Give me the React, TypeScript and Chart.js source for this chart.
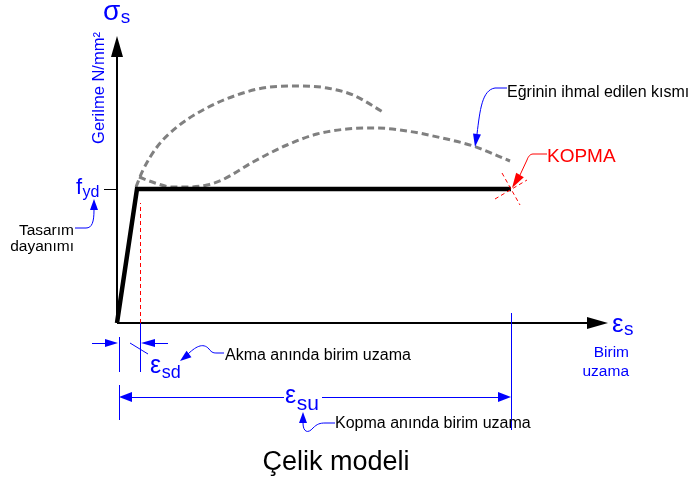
import React, { useEffect, useRef } from "react";
import { Chart, registerables } from "chart.js";

Chart.register(...registerables);

// Diagram units: strain grows to the right, stress grows upward, origin at (0,0)
const bilinearStrain = [0, 20, 394];
const bilinearStress = [0, 134, 134];
const yieldStrain = 23; // ε_sd
const ruptureStrain = 394; // ε_su
const yieldStress = 134; // f_yd
const upperCurveStrain = [19, 26, 40, 60, 86, 120, 153, 183, 210, 236, 266];
const upperCurveStress = [136, 153, 176, 196, 213, 228, 236, 237, 235, 228, 211];
const lowerCurveStrain = [22, 38, 55, 72, 90, 105, 136, 170, 200, 230, 260, 290, 325, 356, 393];
const lowerCurveStress = [146, 140, 136, 136, 138, 143, 161, 178, 189, 194, 195, 192, 185, 177, 162];
const axisStrainEnd = 470;
const axisStressEnd = 266;

const FONT = '"Liberation Sans", Arial, sans-serif';
const BLUE = "#0000ff";
const RED = "#ff0000";
const GRAY = "#808080";

const pts = (xs: number[], ys: number[]) => xs.map((x, i) => ({ x, y: ys[i] }));

const diagramPlugin = {
  id: "diagram",
  afterDatasetsDraw(chart: any) {
    const ctx: CanvasRenderingContext2D = chart.ctx;
    const sx = chart.scales.x;
    const sy = chart.scales.y;
    const X = (v: number) => sx.getPixelForValue(v);
    const Y = (v: number) => sy.getPixelForValue(v);

    const line = (x1: number, y1: number, x2: number, y2: number, color: string, w = 1, dash: number[] = []) => {
      ctx.save();
      ctx.strokeStyle = color;
      ctx.lineWidth = w;
      ctx.setLineDash(dash);
      ctx.beginPath();
      let a = X(x1), b = Y(y1), c = X(x2), d = Y(y2);
      if (w === 1) {
        if (a === c) { a = Math.round(a) + 0.5; c = a; }
        if (b === d) { b = Math.round(b) + 0.5; d = b; }
      }
      ctx.moveTo(a, b);
      ctx.lineTo(c, d);
      ctx.stroke();
      ctx.restore();
    };

    const head = (tx: number, ty: number, bx: number, by: number, half: number, color: string) => {
      const x1 = X(tx), y1 = Y(ty), x0 = X(bx), y0 = Y(by);
      const dx = x1 - x0, dy = y1 - y0;
      const len = Math.hypot(dx, dy) || 1;
      const nx = -dy / len, ny = dx / len;
      ctx.save();
      ctx.fillStyle = color;
      ctx.beginPath();
      ctx.moveTo(x1, y1);
      ctx.lineTo(x0 + nx * half, y0 + ny * half);
      ctx.lineTo(x0 - nx * half, y0 - ny * half);
      ctx.closePath();
      ctx.fill();
      ctx.restore();
    };

    const curve = (segs: number[][][], color: string) => {
      ctx.save();
      ctx.strokeStyle = color;
      ctx.lineWidth = 1;
      ctx.beginPath();
      const s = segs[0][0];
      ctx.moveTo(X(s[0]), Y(s[1]));
      for (let i = 1; i < segs.length; i++) {
        const g = segs[i];
        if (g.length === 3) {
          ctx.bezierCurveTo(X(g[0][0]), Y(g[0][1]), X(g[1][0]), Y(g[1][1]), X(g[2][0]), Y(g[2][1]));
        } else {
          ctx.lineTo(X(g[0][0]), Y(g[0][1]));
        }
      }
      ctx.stroke();
      ctx.restore();
    };

    const text = (t: string, x: number, y: number, size: number, color: string, align: CanvasTextAlign = "left") => {
      ctx.save();
      ctx.font = `${size}px ${FONT}`;
      ctx.fillStyle = color;
      ctx.textAlign = align;
      ctx.textBaseline = "alphabetic";
      ctx.fillText(t, X(x), Y(y));
      ctx.restore();
    };

    const sym = (main: string, sub: string, x: number, y: number, mainSize: number, subSize: number, drop: number, color: string) => {
      ctx.save();
      ctx.fillStyle = color;
      ctx.textAlign = "left";
      ctx.textBaseline = "alphabetic";
      ctx.font = `${mainSize}px ${FONT}`;
      ctx.fillText(main, X(x), Y(y));
      const w = ctx.measureText(main).width;
      ctx.font = `${subSize}px ${FONT}`;
      ctx.fillText(sub, X(x) + w + 0.5, Y(y) + drop);
      ctx.restore();
    };

    // yield strain marker (red dashed)
    line(yieldStrain, 0, yieldStrain, yieldStress - 14, RED, 1, [4, 3]);

    // axis arrowheads
    head(axisStrainEnd + 21, 0, axisStrainEnd, 0, 6, "#000");
    head(0, axisStressEnd + 21, 0, axisStressEnd, 6, "#000");

    // f_yd tick
    line(-13, yieldStress, 0, yieldStress, "#000", 1);

    // axis labels
    sym("σ", "s", -14, 303, 28, 19, 3, BLUE);
    ctx.save();
    ctx.translate(X(-18), Y(235));
    ctx.rotate(-Math.PI / 2);
    ctx.font = `16.5px ${FONT}`;
    ctx.fillStyle = BLUE;
    ctx.textAlign = "center";
    ctx.textBaseline = "middle";
    ctx.fillText("Gerilme N/mm²", 0, 0);
    ctx.restore();

    sym("f", "yd", -41, yieldStress - 5, 22, 16, 3, BLUE);
    sym("ε", "s", ruptureStrain + 101, -9, 26, 19, 3, BLUE);
    text("Birim", ruptureStrain + 118, -34, 15.5, BLUE, "right");
    text("uzama", ruptureStrain + 118, -53, 15.5, BLUE, "right");

    // Tasarım dayanımı callout
    text("Tasarım", -43, 88, 15.5, "#000", "right");
    text("dayanımı", -43, 72, 15.5, "#000", "right");
    head(-23, 124, -23, 113, 4, BLUE);
    curve([[[-23, 113]], [[-23, 101], [-25, 95], [-31, 95]], [[-42, 95]]], BLUE);

    // Neglected part callout
    text("Eğrinin ihmal edilen kısmı", 390, 226, 16, "#000");
    head(358, 176, 360, 189, 4, BLUE);
    curve([[[360, 189]], [[363, 213], [365, 233], [378, 235]], [[390, 235]]], BLUE);

    // Rupture
    line(378, 124, 410, 143, RED, 1, [4, 3]);
    line(385, 150, 403, 118, RED, 1, [4, 3]);
    text("KOPMA", 430, 161, 19, RED);
    head(395, 135, 403, 148, 4.5, RED);
    curve([[[430, 169]], [[416, 169]], [[413, 169], [411, 166], [410, 163]], [[403, 148]]], RED);

    // ε_sd dimension
    line(2, -14, 2, -49, BLUE);
    line(yieldStrain, 0, yieldStrain, -49, BLUE);
    line(-25, -20, -12, -20, BLUE);
    head(1, -20, -12, -20, 4, BLUE);
    line(51, -20, 38, -20, BLUE);
    head(yieldStrain + 1, -20, 38, -20, 4, BLUE);
    line(13, -20, 31, -31, BLUE);
    sym("ε", "sd", 33, -50, 25, 18, 5, BLUE);
    head(63, -38, 72, -31, 4, BLUE);
    curve([[[70, -32]], [[78, -24], [86, -19], [92, -26]], [[95, -30], [97, -30], [100, -30]], [[107, -30]]], BLUE);
    text("Akma anında birim uzama", 108, -37, 16, "#000");

    // ε_su dimension
    line(2, -62, 2, -97, BLUE);
    line(ruptureStrain, 10, ruptureStrain, -107, BLUE);
    line(15, -74, 167, -74, BLUE);
    line(205, -74, ruptureStrain - 13, -74, BLUE);
    head(2, -74, 15, -74, 5, BLUE);
    head(ruptureStrain, -74, ruptureStrain - 13, -74, 5, BLUE);
    sym("ε", "su", 168, -80, 25, 21, 7, BLUE);
    head(186, -89, 186, -100, 4, BLUE);
    curve([[[186, -100]], [[186, -109], [191, -111], [196, -105]], [[200, -101], [203, -100], [208, -100]], [[218, -100]]], BLUE);
    text("Kopma anında birim uzama", 218, -105, 16, "#000");

    // title
    text("Çelik modeli", 219, -147, 27, "#000", "center");
  },
};

export default function App() {
  const ref = useRef<HTMLCanvasElement | null>(null);
  useEffect(() => {
    if (!ref.current) return;
    const lineDs = (data: any[], color: string, width: number, dash: number[] = [], smooth = false) => ({
      data,
      showLine: true,
      borderColor: color,
      backgroundColor: color,
      borderWidth: width,
      borderDash: dash,
      cubicInterpolationMode: smooth ? "monotone" : "default",
      tension: 0,
      pointRadius: 0,
      fill: false,
    });
    const chart = new Chart(ref.current, {
      type: "scatter",
      data: {
        datasets: [
          lineDs(pts(bilinearStrain, bilinearStress), "#000", 4.5),
          lineDs([{ x: 0, y: 0 }, { x: axisStrainEnd, y: 0 }], "#000", 2),
          lineDs([{ x: 0, y: 0 }, { x: 0, y: axisStressEnd }], "#000", 2),
          lineDs(pts(upperCurveStrain, upperCurveStress), GRAY, 3, [7, 4], true),
          lineDs(pts(lowerCurveStrain, lowerCurveStress), GRAY, 3, [7, 4], true),
        ],
      },
      options: {
        responsive: false,
        devicePixelRatio: 1,
        animation: false,
        layout: { padding: 0 },
        plugins: { legend: { display: false }, tooltip: { enabled: false } },
        scales: {
          x: { type: "linear", min: -117, max: 571, display: false },
          y: { type: "linear", min: -159, max: 323, display: false },
        },
      },
      plugins: [diagramPlugin],
    });
    return () => chart.destroy();
  }, []);
  return (
    <div style={{ position: "absolute", left: 0, top: 0, width: 688, height: 482, background: "#fff" }}>
      <canvas ref={ref} width={688} height={482} style={{ display: "block" }} />
    </div>
  );
}
